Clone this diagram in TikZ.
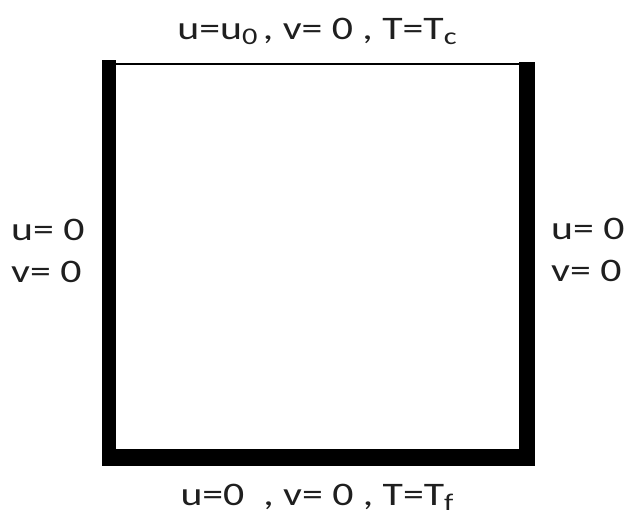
\documentclass[tikz,border=0pt]{standalone}
\usepackage{fontspec}
\newfontfamily\lblfont[FakeStretch=1.27]{Carlito}
\begin{document}
\begin{tikzpicture}[x=1bp,y=-1bp,
  lbl/.style={inner sep=0pt,font=\lblfont\fontsize{33}{42}\selectfont,text=black!88,align=left},
  wall/.style={fill=black,draw=none}]
\useasboundingbox[fill=white] (0,0) rectangle (624,515);
% walls
\fill[wall] (102,60) rectangle (116,466);
\fill[wall] (519,62) rectangle (535,466);
\fill[wall] (102,449) rectangle (535,466);
\coordinate (tl) at (116,64);
\coordinate (tr) at (519,64);
\draw[line width=1.3bp] (tl) -- (tr);
% labels
\node[lbl,anchor=base] (top) at (317,40) {u=u{\fontsize{24}{24}\selectfont\raisebox{-5bp}{0}}\,, v= 0 , T=T{\fontsize{24}{24}\selectfont\raisebox{-5bp}{c}}};
\node[lbl,anchor=base] (bot) at (317,505) {u=0 \ , v= 0 , T=T{\fontsize{24}{24}\selectfont\raisebox{-5bp}{f}}};
\node[lbl,anchor=base west] (l1) at (11,241) {u= 0};
\node[lbl,anchor=base west] (l2) at (11,282) {v= 0};
\node[lbl,anchor=base west] (r1) at (551,240) {u= 0};
\node[lbl,anchor=base west] (r2) at (551,281) {v= 0};
\end{tikzpicture}
\end{document}
